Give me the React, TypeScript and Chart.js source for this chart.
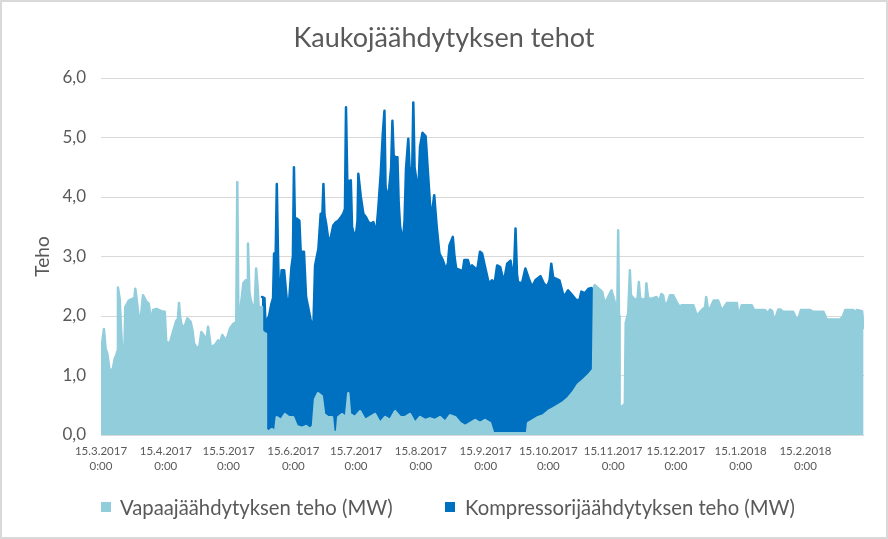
import { useEffect, useRef } from "react";
import { Chart, registerables } from "chart.js";

Chart.register(...registerables);

// x values are days since 15.3.2017 0:00
const tickDays = [0, 31, 61, 92, 122, 153, 184, 214, 245, 275, 306, 337];
const tickDates = [
  "15.3.2017", "15.4.2017", "15.5.2017", "15.6.2017", "15.7.2017", "15.8.2017",
  "15.9.2017", "15.10.2017", "15.11.2017", "15.12.2017", "15.1.2018", "15.2.2018",
];
const tickTime = "0:00";

const seriesNames = ["Vapaajäähdytyksen teho (MW)", "Kompressorijäähdytyksen teho (MW)"];

const vapaaDay = [
  0, 0.2, 1.4, 2.2, 3.0, 4.2, 5.7, 6.6, 7.4, 7.7,
  8.1, 8.9, 9.7, 10.5, 11.2, 11.6, 13.3, 15.0, 16.0, 16.4,
  17.0, 18.0, 19.1, 20.1, 21.7, 22.8, 24.1, 24.9, 26.5, 28.9,
  30.5, 31.2, 32.9, 34.4, 36.0, 36.8, 37.3, 37.8, 38.4, 39.7,
  41.3, 42.9, 43.8, 44.5, 46.1, 47.1, 48.0, 49.6, 50.5, 51.2,
  51.9, 52.5, 54.4, 56.0, 56.9, 58.0, 59.7, 60.5, 61.7, 63.3,
  64.7, 65.2, 65.7, 66.8, 68.1, 69.2, 69.9, 70.3, 71.0, 71.6,
  72.7, 73.6, 74.2, 74.9, 75.5, 76.6, 77.0, 78.5, 78.9, 79.9,
  81.8, 83.3, 84.1, 86.1, 88.0, 89.9, 91.9, 93.6, 96.2, 98.1,
  100.0, 101.4, 102.4, 103.8, 105.6, 106.7, 108.6, 110.5, 111.2, 112.9,
  113.5, 115.3, 117.2, 118.3, 119.1, 121.5, 123.9, 126.3, 128.7, 131.1,
  133.5, 135.9, 138.3, 140.7, 143.1, 145.5, 147.8, 150.2, 152.6, 155.0,
  157.4, 159.8, 162.2, 164.6, 167.0, 169.4, 171.8, 174.2, 176.6, 179.0,
  181.3, 183.7, 186.1, 187.6, 195.7, 203.8, 204.3, 206.7, 209.1, 211.5,
  213.9, 216.3, 218.7, 221.1, 223.4, 225.8, 228.2, 230.6, 233.0, 235.4,
  235.9, 236.2, 238.1, 239.7, 241.0, 241.6, 242.6, 244.2, 245.5, 246.6,
  247.0, 247.4, 247.8, 248.1, 250.6, 251.0, 252.2, 253.0, 253.5, 255.4,
  256.7, 257.3, 257.9, 259.6, 260.5, 260.9, 261.7, 263.6, 265.7, 267.0,
  268.1, 268.9, 269.9, 271.3, 272.2, 273.7, 275.1, 276.6, 277.8, 283.4,
  285.0, 286.1, 287.4, 289.0, 289.5, 290.2, 291.1, 292.3, 293.1, 295.2,
  297.0, 298.1, 299.4, 304.2, 305.0, 306.5, 311.3, 312.4, 317.7, 319.1,
  320.1, 321.1, 321.7, 323.0, 324.0, 325.0, 326.3, 331.1, 332.9, 334.0,
  334.8, 339.3, 340.5, 345.6, 347.2, 353.6, 355.0, 356.0, 359.9, 360.7,
  361.5, 364.1, 364.8,
];
const vapaaTeho = [
  0.6, 1.45, 1.78, 1.45, 1.37, 1.06, 1.12, 1.29, 1.35, 1.4,
  2.48, 2.3, 1.71, 1.29, 1.35, 2.15, 2.26, 2.29, 2.3, 2.46,
  2.3, 1.99, 2.0, 2.35, 2.24, 2.21, 1.9, 2.1, 2.12, 2.08,
  2.07, 1.57, 1.54, 1.73, 1.92, 1.95, 2.22, 2.0, 1.87, 1.79,
  1.96, 1.9, 1.75, 1.54, 1.45, 1.5, 1.73, 1.65, 1.6, 1.82,
  1.65, 1.48, 1.51, 1.59, 1.55, 1.68, 1.59, 1.65, 1.79, 1.87,
  1.9, 4.25, 2.0, 2.15, 2.55, 2.6, 2.6, 3.22, 2.4, 2.27,
  2.15, 2.2, 2.8, 2.5, 2.1, 2.15, 1.75, 1.7, 0.1, 0.05,
  0.1, 0.05, 0.3, 0.25, 0.35, 0.3, 0.3, 0.15, 0.12, 0.15,
  0.1, 0.15, 0.6, 0.7, 0.65, 0.35, 0.3, 0.3, 0.05, 0.05,
  0.3, 0.35, 0.3, 0.7, 0.35, 0.3, 0.4, 0.25, 0.3, 0.35,
  0.2, 0.3, 0.25, 0.4, 0.3, 0.3, 0.35, 0.2, 0.3, 0.25,
  0.28, 0.25, 0.3, 0.22, 0.33, 0.3, 0.2, 0.15, 0.2, 0.25,
  0.2, 0.25, 0.2, 0.03, 0.03, 0.03, 0.2, 0.25, 0.3, 0.33,
  0.4, 0.45, 0.5, 0.55, 0.62, 0.72, 0.85, 0.92, 1.0, 1.1,
  2.5, 2.52, 2.46, 2.41, 2.21, 2.25, 2.32, 2.43, 2.27, 2.1,
  2.1, 3.44, 2.0, 0.45, 0.52, 1.88, 2.05, 2.77, 2.35, 2.27,
  2.3, 2.57, 2.3, 2.27, 2.3, 2.55, 2.3, 2.29, 2.32, 2.25,
  2.37, 2.35, 2.16, 2.25, 2.35, 2.35, 2.25, 2.16, 2.18, 2.18,
  2.01, 2.05, 2.1, 2.15, 2.32, 2.15, 2.1, 2.2, 2.26, 2.26,
  2.09, 2.15, 2.22, 2.22, 1.99, 2.18, 2.18, 2.1, 2.1, 2.05,
  2.11, 2.08, 1.96, 2.0, 2.11, 2.11, 2.07, 2.07, 1.93, 2.0,
  2.1, 2.1, 2.07, 2.07, 1.94, 1.94, 2.0, 2.1, 2.1, 2.05,
  2.1, 2.08, 1.8,
];

const kompDay = [
  77.0, 78.2, 78.8, 79.4, 80.4, 81.5, 82.3, 82.8, 83.5, 84.1,
  84.7, 85.3, 86.4, 87.6, 88.8, 89.9, 91.1, 91.8, 92.3, 92.9,
  93.6, 94.9, 95.5, 96.0, 97.1, 98.1, 99.2, 100.3, 101.6, 102.4,
  104.0, 105.1, 105.7, 106.4, 106.9, 107.7, 108.8, 109.9, 111.1, 112.4,
  113.5, 114.8, 115.9, 116.7, 117.2, 117.8, 118.3, 119.5, 120.1, 120.7,
  122.0, 122.7, 123.1, 124.3, 125.5, 126.8, 127.9, 129.2, 130.3, 131.6,
  132.7, 133.8, 134.8, 135.6, 136.1, 136.7, 137.9, 138.8, 139.4, 140.0,
  140.7, 141.8, 142.4, 143.1, 144.4, 145.2, 145.9, 147.0, 147.6, 148.2,
  148.9, 149.4, 150.0, 150.7, 151.7, 152.6, 153.8, 155.3, 156.5, 157.9,
  159.4, 160.6, 161.9, 163.5, 165.1, 166.0, 166.7, 168.3, 169.1, 169.9,
  171.8, 173.0, 173.8, 175.5, 176.6, 177.5, 179.1, 180.1, 181.3, 182.3,
  183.9, 185.5, 187.1, 188.3, 189.5, 191.0, 192.7, 194.3, 195.9, 197.4,
  198.3, 199.0, 199.5, 201.4, 203.0, 204.6, 206.2, 207.8, 210.2, 211.8,
  213.4, 214.6, 215.4, 216.3, 217.4, 219.3, 221.4, 223.4, 225.4, 227.3,
  228.9, 229.8, 231.4, 233.3, 234.6, 235.4,
];
const kompTeho = [
  2.32, 2.3, 1.75, 1.93, 2.0, 2.2, 2.3, 3.05, 2.9, 4.22,
  3.0, 2.15, 2.77, 2.77, 2.3, 2.2, 2.82, 3.0, 4.5, 3.3,
  3.64, 3.6, 3.1, 3.08, 3.08, 2.32, 2.13, 1.93, 1.82, 2.85,
  3.13, 3.72, 3.5, 4.22, 3.7, 3.55, 3.27, 3.32, 3.52, 3.58,
  3.6, 3.66, 3.72, 3.8, 5.51, 4.3, 4.25, 4.28, 3.5, 3.41,
  3.38, 3.6, 4.39, 4.0, 3.72, 3.66, 3.58, 3.55, 3.58, 3.38,
  3.83, 4.39, 5.06, 5.45, 4.2, 3.94, 4.16, 4.5, 5.28, 4.7,
  4.67, 4.67, 3.9, 3.5, 3.24, 3.6, 4.47, 4.98, 4.5, 4.33,
  4.5, 5.59, 4.5, 4.33, 4.0, 4.84, 5.08, 5.02, 4.36, 3.6,
  4.03, 3.5, 3.05, 2.94, 2.77, 2.9, 3.19, 3.33, 3.0, 2.8,
  2.77, 2.75, 2.94, 2.94, 2.8, 2.85, 2.8, 2.8, 3.08, 3.05,
  2.8, 2.55, 2.6, 2.55, 2.85, 2.82, 2.57, 2.88, 2.93, 2.6,
  3.47, 2.7, 2.57, 2.55, 2.8, 2.63, 2.49, 2.6, 2.67, 2.55,
  2.49, 2.6, 2.88, 2.65, 2.63, 2.6, 2.32, 2.43, 2.35, 2.27,
  2.27, 2.41, 2.38, 2.46, 2.47, 2.45,
];

const yTicks = [0, 1, 2, 3, 4, 5, 6];

const LIGHT = "#92CDDC";
const DARK = "#0070C0";
const TEXT = "#595959";
const FONT = "Lato, 'Noto Sans', sans-serif";

export default function App() {
  const ref = useRef<HTMLCanvasElement | null>(null);

  useEffect(() => {
    if (!ref.current) return;
    const chart = new Chart(ref.current, {
      type: "line",
      data: {
        datasets: [
          {
            label: seriesNames[0],
            data: vapaaDay.map((d, i) => ({ x: d, y: vapaaTeho[i] })),
            backgroundColor: LIGHT,
            borderColor: LIGHT,
            borderWidth: 2.5,
            borderJoinStyle: "round",
            borderCapStyle: "round",
            fill: "origin",
            pointRadius: 0,
            tension: 0,
          },
          {
            label: seriesNames[1],
            data: kompDay.map((d, i) => ({ x: d, y: kompTeho[i] })),
            backgroundColor: DARK,
            borderColor: DARK,
            borderWidth: 2.5,
            borderJoinStyle: "round",
            borderCapStyle: "round",
            fill: "origin",
            pointRadius: 0,
            tension: 0,
          },
        ],
      },
      options: {
        animation: false,
        responsive: false,
        devicePixelRatio: 1,
        layout: { padding: { left: 24, right: 24, top: 0, bottom: 0 } },
        plugins: {
          legend: { display: false },
          tooltip: { enabled: false },
          title: {
            display: true,
            text: "Kaukojäähdytyksen tehot",
            color: TEXT,
            font: { family: FONT, size: 27, weight: "normal", lineHeight: 1.2 },
            padding: { top: 21.8, bottom: 23.8 },
          },
        },
        scales: {
          x: {
            type: "linear",
            min: 0,
            max: 365,
            grid: { display: false, drawTicks: false },
            border: { display: false },
            afterBuildTicks: (scale: any) => {
              scale.ticks = tickDays.map((v) => ({ value: v }));
            },
            afterFit: (scale: any) => {
              scale.height = 104;
            },
            ticks: {
              autoSkip: false,
              maxRotation: 0,
              minRotation: 0,
              padding: 8.5,
              color: TEXT,
              font: { family: FONT, size: 11.5, lineHeight: 1.3 },
              callback: (v: any) => {
                const i = tickDays.indexOf(Number(v));
                return i >= 0 ? [tickDates[i], tickTime] : "";
              },
            },
          },
          y: {
            min: 0,
            max: 6,
            afterBuildTicks: (scale: any) => {
              scale.ticks = yTicks.map((v) => ({ value: v }));
            },
            afterFit: (scale: any) => {
              scale.width = 77;
            },
            grid: { color: "#D9D9D9", lineWidth: 1, drawTicks: false },
            border: { display: false },
            ticks: {
              padding: 15,
              color: TEXT,
              font: { family: FONT, size: 17 },
              callback: (v: any) => Number(v).toFixed(1).replace(".", ","),
            },
            title: {
              display: true,
              text: "Teho",
              color: TEXT,
              font: { family: FONT, size: 19, lineHeight: 1.2 },
              padding: { top: 7.6, bottom: 0 },
            },
          },
        },
      },
    } as any);
    return () => chart.destroy();
  }, []);

  const legendText: React.CSSProperties = {
    position: "absolute",
    top: 495,
    height: 24,
    lineHeight: "24px",
    fontFamily: FONT,
    fontSize: 20.3,
    color: TEXT,
    whiteSpace: "nowrap",
  };
  const box: React.CSSProperties = { position: "absolute", top: 502, width: 10, height: 10 };

  return (
    <div style={{ position: "fixed", left: 0, top: 0, width: 888, height: 539, background: "#fff" }}>
      <div
        style={{
          position: "absolute",
          left: 0,
          top: 0,
          width: 888,
          height: 539,
          boxSizing: "border-box",
          border: "2px solid #D9D9D9",
        }}
      />
      <canvas ref={ref} width={888} height={539} style={{ position: "absolute", left: 0, top: 0, width: 888, height: 539 }} />
      <div style={{ ...box, left: 101, background: LIGHT }} />
      <div style={{ ...legendText, left: 120 }}>{seriesNames[0]}</div>
      <div style={{ ...box, left: 445, background: DARK }} />
      <div style={{ ...legendText, left: 465 }}>{seriesNames[1]}</div>
    </div>
  );
}
